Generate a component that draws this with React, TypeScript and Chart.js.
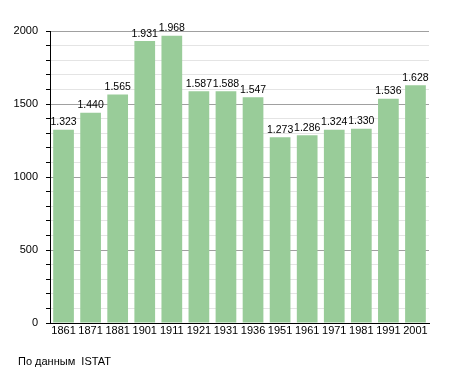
import React, { useEffect, useRef } from "react";
import { Chart, registerables } from "chart.js";

Chart.register(...registerables);

const years = ["1861", "1871", "1881", "1901", "1911", "1921", "1931", "1936", "1951", "1961", "1971", "1981", "1991", "2001"];
const population = [1323, 1440, 1565, 1931, 1968, 1587, 1588, 1547, 1273, 1286, 1324, 1330, 1536, 1628];
const yMax = 2000;
const yStep = 100;
const majorStep = 500;
const sourceNote = "По данным  ISTAT";

const FONT = "'Liberation Sans', Arial, sans-serif";

const fmt = (v: number) => v.toLocaleString("de-DE");

const valueLabels = {
  id: "valueLabels",
  afterDatasetsDraw(chart: any) {
    const ctx = chart.ctx;
    const meta = chart.getDatasetMeta(0);
    ctx.save();
    ctx.font = `10.5px ${FONT}`;
    ctx.fillStyle = "#000";
    ctx.textAlign = "center";
    ctx.textBaseline = "bottom";
    meta.data.forEach((bar: any, i: number) => {
      ctx.fillText(fmt(population[i]), bar.x, bar.y - 2);
    });
    ctx.restore();
  },
};

export default function App() {
  const ref = useRef<HTMLCanvasElement>(null);
  useEffect(() => {
    if (!ref.current) return;
    const chart = new Chart(ref.current, {
      type: "bar",
      data: {
        labels: years,
        datasets: [
          {
            data: population,
            backgroundColor: "#99cc99",
            borderWidth: 0,
            categoryPercentage: 0.765,
            barPercentage: 1,
          },
        ],
      },
      options: {
        animation: false,
        responsive: false,
        maintainAspectRatio: false,
        layout: { padding: { left: 0, right: 26, top: 31, bottom: 0 } },
        plugins: { legend: { display: false }, tooltip: { enabled: false } },
        scales: {
          x: {
            grid: { display: false, drawTicks: false },
            border: { color: "#000", width: 1 },
            ticks: { color: "#000", font: { family: FONT, size: 11 }, padding: 1, maxRotation: 0, autoSkip: false },
            afterFit(scale: any) {
              scale.height = 50;
            },
          },
          y: {
            min: 0,
            max: yMax,
            border: { color: "#000", width: 1 },
            grid: {
              color: (c: any) => (c.tick && c.tick.value % majorStep === 0 ? "#a0a0a0" : "#e4e4e4"),
              tickColor: "#000",
              tickLength: 4,
            },
            ticks: {
              stepSize: yStep,
              autoSkip: false,
              color: "#000",
              font: { family: FONT, size: 11 },
              padding: 8,
              callback: (v: any) => (Number(v) % majorStep === 0 ? String(v) : ""),
            },
            afterFit(scale: any) {
              scale.width = 50;
            },
          },
        },
      },
      plugins: [valueLabels],
    });
    return () => chart.destroy();
  }, []);
  return (
    <div style={{ position: "fixed", left: 0, top: 0, width: 455, height: 373, background: "#fff" }}>
      <canvas ref={ref} width={455} height={373} style={{ display: "block" }} />
      <div
        style={{
          position: "absolute",
          left: 18,
          top: 355,
          fontFamily: FONT,
          fontSize: 11,
          color: "#000",
          whiteSpace: "pre",
        }}
      >
        {sourceNote}
      </div>
    </div>
  );
}
